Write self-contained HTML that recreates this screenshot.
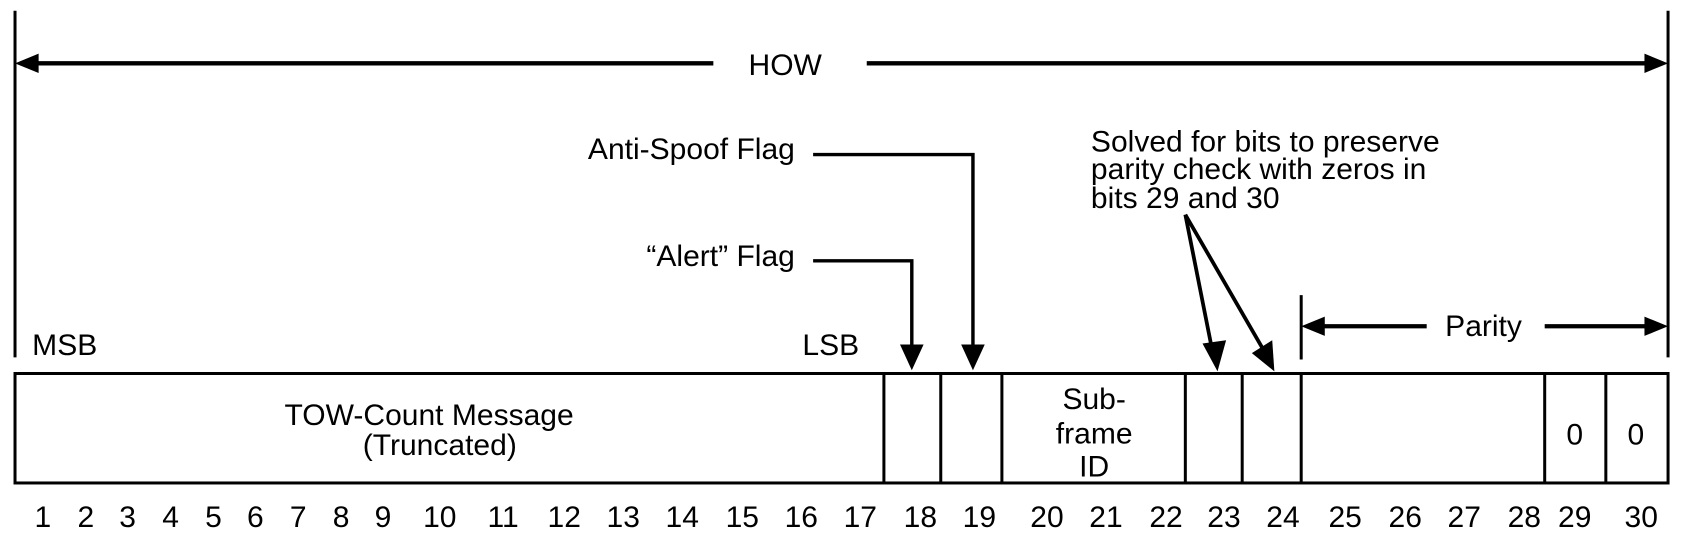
<!DOCTYPE html>
<html><head><meta charset="utf-8"><style>html,body{margin:0;padding:0;background:#fff}svg{display:block}</style></head>
<body>
<svg width="1682" height="542" viewBox="0 0 1568 505" preserveAspectRatio="none" xmlns="http://www.w3.org/2000/svg" font-family="Liberation Sans, sans-serif" font-size="28" fill="#000">
<g stroke="#000" stroke-width="2.8" fill="none">
<line x1="14" y1="10" x2="14" y2="333"/>
<line x1="1555" y1="10" x2="1555" y2="333"/>
<line x1="28" y1="59" x2="665" y2="59" stroke-width="4"/>
<line x1="808" y1="59" x2="1540" y2="59" stroke-width="4"/>
<polyline points="758,144 907,144 907,325" stroke-width="3.2"/>
<polyline points="758,243 850,243 850,325" stroke-width="3.2"/>
<line x1="1105" y1="200" x2="1130" y2="326" stroke-width="3.5"/>
<line x1="1105" y1="200" x2="1179" y2="328" stroke-width="3.5"/>
<line x1="1213" y1="275" x2="1213" y2="335"/>
<line x1="1228" y1="304" x2="1330" y2="304" stroke-width="4"/>
<line x1="1440" y1="304" x2="1540" y2="304" stroke-width="4"/>
<rect x="14" y="348" width="1541" height="102"/>
<line x1="824" y1="348" x2="824" y2="450"/>
<line x1="877" y1="348" x2="877" y2="450"/>
<line x1="934" y1="348" x2="934" y2="450"/>
<line x1="1105" y1="348" x2="1105" y2="450"/>
<line x1="1158" y1="348" x2="1158" y2="450"/>
<line x1="1213" y1="348" x2="1213" y2="450"/>
<line x1="1440" y1="348" x2="1440" y2="450"/>
<line x1="1497" y1="348" x2="1497" y2="450"/>
</g>
<g stroke="none">
<polygon points="14,59 36,50 36,68"/>
<polygon points="1555,59 1533,50 1533,68"/>
<polygon points="1213,304 1235,295 1235,313"/>
<polygon points="1555,304 1533,295 1533,313"/>
<polygon points="839,321 861,321 850,345"/>
<polygon points="896,321 918,321 907,345"/>
<polygon points="1121,320 1143,317 1135,346"/>
<polygon points="1167,329 1186,317 1188,346"/>
</g>
<text x="732" y="70" text-anchor="middle">HOW</text>
<text x="741" y="148" text-anchor="end">Anti-Spoof Flag</text>
<text x="741" y="248" text-anchor="end">“Alert” Flag</text>
<text x="1017" y="141">Solved for bits to preserve</text>
<text x="1017" y="167">parity check with zeros in</text>
<text x="1017" y="194">bits 29 and 30</text>
<text x="1383" y="313" text-anchor="middle">Parity</text>
<text x="30" y="331">MSB</text>
<text x="748" y="331">LSB</text>
<text x="400" y="396" text-anchor="middle">TOW-Count Message</text>
<text x="410" y="424" text-anchor="middle">(Truncated)</text>
<text x="1020" y="381" text-anchor="middle">Sub-</text>
<text x="1020" y="413" text-anchor="middle">frame</text>
<text x="1020" y="444" text-anchor="middle">ID</text>
<text x="1468" y="414" text-anchor="middle">0</text>
<text x="1525" y="414" text-anchor="middle">0</text>
<g text-anchor="middle">
<text x="40" y="491">1</text><text x="80" y="491">2</text><text x="119" y="491">3</text><text x="159" y="491">4</text><text x="199" y="491">5</text><text x="238" y="491">6</text><text x="278" y="491">7</text><text x="318" y="491">8</text><text x="357" y="491">9</text><text x="410" y="491">10</text><text x="469" y="491">11</text><text x="526" y="491">12</text><text x="581" y="491">13</text><text x="636" y="491">14</text><text x="692" y="491">15</text><text x="747" y="491">16</text><text x="802" y="491">17</text><text x="858" y="491">18</text><text x="913" y="491">19</text><text x="976" y="491">20</text><text x="1031" y="491">21</text><text x="1087" y="491">22</text><text x="1141" y="491">23</text><text x="1196" y="491">24</text><text x="1254" y="491">25</text><text x="1310" y="491">26</text><text x="1365" y="491">27</text><text x="1421" y="491">28</text><text x="1468" y="491">29</text><text x="1530" y="491">30</text>
</g>
</svg>
</body></html>
